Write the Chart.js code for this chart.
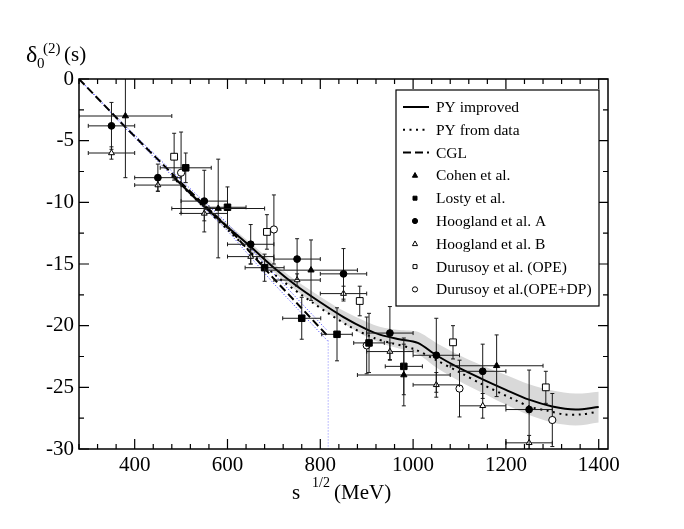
<!DOCTYPE html>
<html>
<head>
<meta charset="utf-8">
<script src="https://cdn.jsdelivr.net/npm/chart.js@4.4.0/dist/chart.umd.min.js"></script>
<style>
  html, body { margin: 0; padding: 0; background: #fff; }
  #wrap { width: 684px; height: 529px; position: relative; }
</style>
</head>
<body>
<div id="wrap"><canvas id="c"></canvas></div>
<script>
// axis ticks
const xTicks = [400, 600, 800, 1000, 1200, 1400];
const yTicks = [0, -5, -10, -15, -20, -25, -30];

// PY improved (solid) and its error band
const pyX        = [480, 540, 600, 650, 700, 750, 800, 850, 900, 930, 970, 1010, 1050, 1100, 1150, 1200, 1250, 1300, 1350, 1400];
const pyImproved = [-7.8, -10.0, -12.0, -13.6, -15.3, -16.8, -18.1, -19.3, -20.3, -20.75, -21.1, -21.4, -22.4, -23.45, -24.35, -25.2, -26.0, -26.55, -26.8, -26.6];
const pyBandUp   = [-7.65, -9.8, -11.75, -13.3, -14.95, -16.4, -17.65, -18.8, -19.7, -20.1, -20.35, -20.5, -21.4, -22.4, -23.25, -24.0, -24.75, -25.25, -25.5, -25.35];
const pyBandLo   = [-7.95, -10.2, -12.25, -13.9, -15.65, -17.2, -18.55, -19.8, -20.9, -21.4, -21.85, -22.3, -23.4, -24.5, -25.45, -26.4, -27.25, -27.85, -28.1, -27.85];

// PY from data (dotted)
const pyDataX    = [480, 600, 700, 786, 860, 916, 952, 1002, 1050, 1101, 1146, 1218, 1254, 1290, 1326, 1362, 1395];
const pyFromData = [-7.9, -12.2, -15.8, -18.2, -20.0, -21.0, -21.4, -21.9, -22.8, -23.8, -24.7, -26.0, -26.6, -26.9, -27.2, -27.2, -27.0];

// CGL (dashed) and its blue band
const cglX   = [280, 380, 500, 600, 700, 815];
const cgl    = [0, -3.9, -8.4, -12.0, -16.2, -20.8];
const cglUp  = [0, -3.8, -8.2, -11.7, -15.8, -20.4];
const cglLo  = [0, -4.0, -8.6, -12.3, -16.6, -21.2];
const cglCutX = [817, 817];
const cglCutY = [-21.2, -30];

// data sets
const cohenX    = [380, 580, 780, 980, 1180];
const cohenY    = [-3.0, -10.5, -15.5, -24.0, -23.25];
const cohenXerr = [100, 100, 100, 100, 100];
const cohenYerr = [5.0, 4.0, 2.45, 2.5, 2.5];

const lostyX    = [510, 600, 680, 760, 836, 905, 980];
const lostyY    = [-7.2, -10.4, -15.3, -19.4, -20.7, -21.4, -23.3];
const lostyXerr = [55, 40, 42, 41, 33, 33, 40];
const lostyYerr = [1.2, 1.65, 1.1, 1.7, 2.15, 2.4, 2.3];

const hoogX     = [350, 450, 550, 650, 750, 850, 950, 1050, 1150, 1250];
const hoogXerr  = [50, 50, 50, 50, 50, 50, 50, 50, 50, 50];
const hoogAY    = [-3.8, -8.0, -9.9, -13.4, -14.6, -15.8, -20.6, -22.4, -23.7, -26.8];
const hoogAYerr = [1.9, 1.1, 2.5, 1.6, 1.65, 2.05, 2.15, 3.0, 2.2, 3.2];
const hoogBY    = [-6.0, -8.6, -10.9, -14.4, -16.3, -17.4, -22.1, -24.8, -26.5, -29.5];
const hoogBYerr = [0.5, 0.5, 0.6, 0.6, 0.5, 0.6, 0.7, 1.0, 1.0, 0.6];

const durOpeX    = [485, 685, 885, 1086, 1286];
const durOpeY    = [-6.3, -12.4, -18.0, -21.35, -25.0];
const durOpeYerr = [1.9, 1.4, 1.2, 1.35, 1.3];

const durDpX    = [500, 700, 900, 1100, 1300];
const durDpY    = [-7.6, -12.2, -21.6, -25.1, -27.65];
const durDpYerr = [3.3, 2.8, 2.3, 2.3, 2.15];

const SERIF = '"Liberation Serif", "Times New Roman", serif';

const toPts = (xs, ys) => xs.map((x, i) => ({ x: x, y: ys[i] }));
const toErrPts = (xs, ys, xe, ye) => xs.map((x, i) => ({ x: x, y: ys[i], xerr: xe ? xe[i] : 0, yerr: ye[i] }));

function markerSet(label, data, style, radius, filled, order) {
    return {
        label: label,
        data: data,
        errorBars: true,
        showLine: false,
        pointStyle: style,
        pointRadius: radius,
        pointBorderWidth: 1,
        pointBorderColor: '#000',
        pointBackgroundColor: filled ? '#000' : '#fff',
        order: order
    };
}

function lineSet(data, opts) {
    return Object.assign({
        data: data,
        showLine: true,
        pointRadius: 0,
        borderColor: '#000',
        borderWidth: 2,
        fill: false,
        tension: 0.3
    }, opts);
}

// error bars with small caps, drawn just before the markers of each set
const errorBarPlugin = {
    id: 'errorBars',
    beforeDatasetDraw(chart, args) {
        const ds = chart.data.datasets[args.index];
        if (!ds.errorBars) return;
        const xs = chart.scales.x, ys = chart.scales.y, area = chart.chartArea;
        const ctx = chart.ctx;
        ctx.save();
        ctx.beginPath();
        ctx.rect(area.left, area.top, area.right - area.left, area.bottom - area.top);
        ctx.clip();
        ctx.strokeStyle = '#1a1a1a';
        ctx.lineWidth = 1;
        const cap = 2;
        ds.data.forEach(p => {
            const px = xs.getPixelForValue(p.x), py = ys.getPixelForValue(p.y);
            ctx.beginPath();
            if (p.xerr) {
                const x1 = xs.getPixelForValue(p.x - p.xerr), x2 = xs.getPixelForValue(p.x + p.xerr);
                ctx.moveTo(x1, py); ctx.lineTo(x2, py);
                ctx.moveTo(x1, py - cap); ctx.lineTo(x1, py + cap);
                ctx.moveTo(x2, py - cap); ctx.lineTo(x2, py + cap);
            }
            if (p.yerr) {
                const y1 = ys.getPixelForValue(p.y + p.yerr), y2 = ys.getPixelForValue(p.y - p.yerr);
                ctx.moveTo(px, y1); ctx.lineTo(px, y2);
                ctx.moveTo(px - cap, y1); ctx.lineTo(px + cap, y1);
                ctx.moveTo(px - cap, y2); ctx.lineTo(px + cap, y2);
            }
            ctx.stroke();
        });
        ctx.restore();
    }
};

// frame with inward ticks on all four sides
const framePlugin = {
    id: 'frame',
    afterDatasetsDraw(chart) {
        const ctx = chart.ctx, a = chart.chartArea;
        const xs = chart.scales.x, ys = chart.scales.y;
        ctx.save();
        ctx.strokeStyle = '#000';
        ctx.lineWidth = 1.5;
        ctx.strokeRect(a.left, a.top, a.right - a.left, a.bottom - a.top);
        ctx.lineWidth = 1.2;
        ctx.beginPath();
        for (let v = 280; v <= 1420; v += 40) {
            const len = xTicks.includes(v) ? 10 : 5;
            const px = xs.getPixelForValue(v);
            ctx.moveTo(px, a.bottom); ctx.lineTo(px, a.bottom - len);
            ctx.moveTo(px, a.top); ctx.lineTo(px, a.top + len);
        }
        for (let v = 0; v >= -30; v -= 2.5) {
            const len = yTicks.includes(v) ? 10 : 5;
            const py = ys.getPixelForValue(v);
            ctx.moveTo(a.left, py); ctx.lineTo(a.left + len, py);
            ctx.moveTo(a.right, py); ctx.lineTo(a.right - len, py);
        }
        ctx.stroke();
        ctx.restore();
    }
};

function drawMarker(ctx, style, x, y, r, filled) {
    ctx.beginPath();
    if (style === 'circle') {
        ctx.arc(x, y, r, 0, Math.PI * 2);
    } else if (style === 'rect') {
        ctx.rect(x - r, y - r, 2 * r, 2 * r);
    } else {
        ctx.moveTo(x, y - r * 1.1);
        ctx.lineTo(x + r, y + r * 0.7);
        ctx.lineTo(x - r, y + r * 0.7);
        ctx.closePath();
    }
    ctx.fillStyle = filled ? '#000' : '#fff';
    ctx.fill();
    ctx.lineWidth = 1;
    ctx.strokeStyle = '#000';
    ctx.stroke();
}

const legendItems = [
    { text: 'PY improved', line: [] },
    { text: 'PY from data', line: [2, 4.5] },
    { text: 'CGL', line: [8, 4] },
    { text: 'Cohen et al.', marker: 'triangle', filled: true },
    { text: 'Losty et al.', marker: 'rect', filled: true },
    { text: 'Hoogland et al. A', marker: 'circle', filled: true },
    { text: 'Hoogland et al. B', marker: 'triangle', filled: false },
    { text: 'Durusoy et al. (OPE)', marker: 'rect', filled: false },
    { text: 'Durusoy et al.(OPE+DP)', marker: 'circle', filled: false }
];

// legend box and axis titles
const decorPlugin = {
    id: 'decor',
    afterDraw(chart) {
        const ctx = chart.ctx;
        ctx.save();
        // legend
        const bx = 396, by = 90, bw = 203, bh = 216;
        ctx.fillStyle = '#fff';
        ctx.fillRect(bx, by, bw, bh);
        ctx.strokeStyle = '#000';
        ctx.lineWidth = 1.2;
        ctx.strokeRect(bx, by, bw, bh);
        ctx.font = '15.5px ' + SERIF;
        ctx.textBaseline = 'middle';
        legendItems.forEach((it, i) => {
            const y = 107 + i * 22.8;
            if (it.line) {
                ctx.beginPath();
                ctx.setLineDash(it.line);
                ctx.lineWidth = 2;
                ctx.strokeStyle = '#000';
                ctx.moveTo(403, y); ctx.lineTo(429, y);
                ctx.stroke();
                ctx.setLineDash([]);
            } else {
                const r = it.marker === 'rect' ? 2 : 2.6;
                drawMarker(ctx, it.marker, 415, y, r, it.filled);
            }
            ctx.fillStyle = '#000';
            ctx.fillText(it.text, 436, y + 1);
        });
        // y title: delta_0^(2)(s)
        ctx.textBaseline = 'alphabetic';
        ctx.font = '24px ' + SERIF;
        ctx.fillText('δ', 26, 62);
        ctx.font = '15px ' + SERIF;
        ctx.fillText('0', 37, 68);
        ctx.fillText('(2)', 43, 53);
        ctx.font = '21px ' + SERIF;
        ctx.fillText('(s)', 64, 61);
        // x title: s^1/2 (MeV)
        ctx.font = '21px ' + SERIF;
        ctx.fillText('s', 292, 499);
        ctx.font = '14px ' + SERIF;
        ctx.fillText('1/2', 312, 487);
        ctx.font = '21px ' + SERIF;
        ctx.fillText('(MeV)', 334, 499);
        ctx.restore();
    }
};

new Chart(document.getElementById('c'), {
    type: 'scatter',
    data: {
        datasets: [
            markerSet('Hoogland et al. A', toErrPts(hoogX, hoogAY, hoogXerr, hoogAYerr), 'circle', 3.4, true, 1),
            markerSet('Hoogland et al. B', toErrPts(hoogX, hoogBY, hoogXerr, hoogBYerr), 'triangle', 3.4, false, 2),
            markerSet('Cohen et al.', toErrPts(cohenX, cohenY, cohenXerr, cohenYerr), 'triangle', 3.6, true, 3),
            markerSet('Losty et al.', toErrPts(lostyX, lostyY, lostyXerr, lostyYerr), 'rect', 4.6, true, 4),
            markerSet('Durusoy et al. (OPE)', toErrPts(durOpeX, durOpeY, null, durOpeYerr), 'rect', 4.8, false, 5),
            markerSet('Durusoy et al.(OPE+DP)', toErrPts(durDpX, durDpY, null, durDpYerr), 'circle', 3.6, false, 6),
            lineSet(toPts(pyX, pyImproved), { label: 'PY improved', order: 10 }),
            lineSet(toPts(pyDataX, pyFromData), { label: 'PY from data', borderDash: [2, 4.5], order: 11 }),
            lineSet(toPts(cglX, cgl), { label: 'CGL', borderDash: [8, 4], tension: 0, order: 12 }),
            lineSet(toPts(cglX, cglUp), { borderColor: '#3030ff', borderWidth: 1, borderDash: [1, 2], tension: 0, order: 13 }),
            lineSet(toPts(cglX, cglLo), { borderColor: '#3030ff', borderWidth: 1, borderDash: [1, 2], tension: 0, order: 13 }),
            lineSet(toPts(cglCutX, cglCutY), { borderColor: '#8080ff', borderWidth: 1, borderDash: [1, 2], tension: 0, order: 13 }),
            lineSet(toPts(pyX, pyBandUp), { borderWidth: 0, borderColor: 'rgba(0,0,0,0)', backgroundColor: '#d9d9d9', fill: '+1', order: 20 }),
            lineSet(toPts(pyX, pyBandLo), { borderWidth: 0, borderColor: 'rgba(0,0,0,0)', order: 21 })
        ]
    },
    options: {
        responsive: true,
        maintainAspectRatio: false,
        animation: false,
        layout: { padding: { top: 79, right: 76, left: 0, bottom: 0 } },
        plugins: {
            legend: { display: false },
            tooltip: { enabled: false }
        },
        scales: {
            x: {
                type: 'linear',
                min: 280,
                max: 1420,
                afterBuildTicks: axis => { axis.ticks = xTicks.map(v => ({ value: v })); },
                afterFit: axis => { axis.height = 80; },
                grid: { display: false, drawTicks: false },
                border: { display: false },
                ticks: {
                    color: '#000',
                    padding: 4,
                    maxRotation: 0,
                    font: { family: SERIF, size: 21 },
                    callback: v => String(v)
                }
            },
            y: {
                type: 'linear',
                min: -30,
                max: 0,
                afterBuildTicks: axis => { axis.ticks = yTicks.map(v => ({ value: v })); },
                afterFit: axis => { axis.width = 79; },
                grid: { display: false, drawTicks: false },
                border: { display: false },
                ticks: {
                    color: '#000',
                    padding: 5,
                    font: { family: SERIF, size: 21 },
                    callback: v => String(v)
                }
            }
        }
    },
    plugins: [errorBarPlugin, framePlugin, decorPlugin]
});
</script>
</body>
</html>
